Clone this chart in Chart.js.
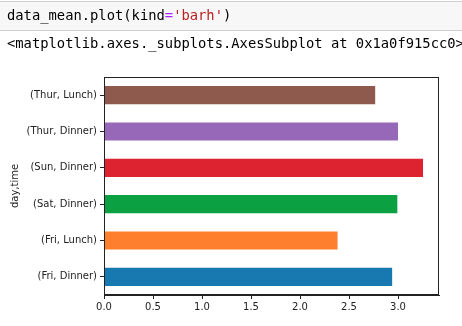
<!DOCTYPE html>
<html>
<head>
<meta charset="utf-8">
<script src="https://cdn.jsdelivr.net/npm/chart.js@4/dist/chart.umd.min.js"></script>
<style>
  body { margin: 0; background: #fff; width: 462px; height: 326px; overflow: hidden; position: relative; }
  #plot { position: absolute; left: 0; top: 0; }
  .cell { position: absolute; left: -2px; top: 1px; width: 470px; height: 28px; background: #f7f7f7; border: 1px solid #cfcfcf; }
  .mono { position: absolute; left: 7px; font-family: 'DejaVu Sans Mono', monospace; font-size: 13.8px; line-height: 16px; white-space: pre; color: #000; }
  .op { color: #aa22ff; }
  .str { color: #ba2121; }
</style>
</head>
<body>
<canvas id="plot" width="462" height="326"></canvas>
<div class="cell"></div>
<div class="mono" style="top:7px">data_mean.plot(kind<span class="op">=</span><span class="str">'barh'</span>)</div>
<div class="mono" style="top:35px">&lt;matplotlib.axes._subplots.AxesSubplot at 0x1a0f915cc0&gt;</div>
<script>
const categories = ['(Fri, Dinner)', '(Fri, Lunch)', '(Sat, Dinner)', '(Sun, Dinner)', '(Thur, Dinner)', '(Thur, Lunch)'];
const meanTips = [2.940, 2.383, 2.993, 3.255, 3.000, 2.767];
const barColors = ['#1878b0', '#fe7f2d', '#0ba142', '#dc232f', '#9768b8', '#8d5a4d'];
const xTicks = [0, 0.5, 1.0, 1.5, 2.0, 2.5, 3.0];

// frame on all four sides, like matplotlib spines
const framePlugin = {
  id: 'frame',
  afterDraw(chart) {
    const a = chart.chartArea, ctx = chart.ctx;
    ctx.save();
    ctx.strokeStyle = '#222';
    ctx.lineWidth = 1;
    ctx.strokeRect(Math.round(a.left) + 0.5, Math.round(a.top) + 0.5,
                   Math.round(a.right - a.left) - 1, Math.round(a.bottom - a.top) - 1);
    ctx.restore();
  }
};

Chart.defaults.font.family = "'DejaVu Sans', sans-serif";
Chart.defaults.font.size = 10;
Chart.defaults.color = '#222';

new Chart(document.getElementById('plot').getContext('2d'), {
  type: 'bar',
  data: {
    labels: categories,
    datasets: [{
      data: meanTips,
      backgroundColor: barColors,
      borderWidth: 0,
      barPercentage: 0.5,
      categoryPercentage: 1
    }]
  },
  options: {
    indexAxis: 'y',
    responsive: false,
    animation: false,
    layout: { padding: { top: 77, right: 23, left: 0, bottom: 0 } },
    plugins: { legend: { display: false }, tooltip: { enabled: false } },
    scales: {
      x: {
        type: 'linear',
        min: 0,
        max: 3.418,
        afterBuildTicks: s => { s.ticks = xTicks.map(v => ({ value: v })); },
        afterFit: s => { s.height = 31; },
        grid: { drawOnChartArea: false, drawTicks: true, tickLength: 4, color: '#222' },
        border: { display: true, color: '#222', width: 1 },
        ticks: { padding: 2, maxRotation: 0, callback: v => Number(v).toFixed(1) }
      },
      y: {
        reverse: true,
        offset: true,
        afterFit: s => { s.width = 104; },
        grid: { offset: false, drawOnChartArea: false, drawTicks: true, tickLength: 4, color: '#222' },
        border: { display: true, color: '#222', width: 1 },
        ticks: { padding: 3 },
        title: { display: true, text: 'day,time', padding: { top: 9, bottom: 0 } }
      }
    }
  },
  plugins: [framePlugin]
});
</script>
</body>
</html>
